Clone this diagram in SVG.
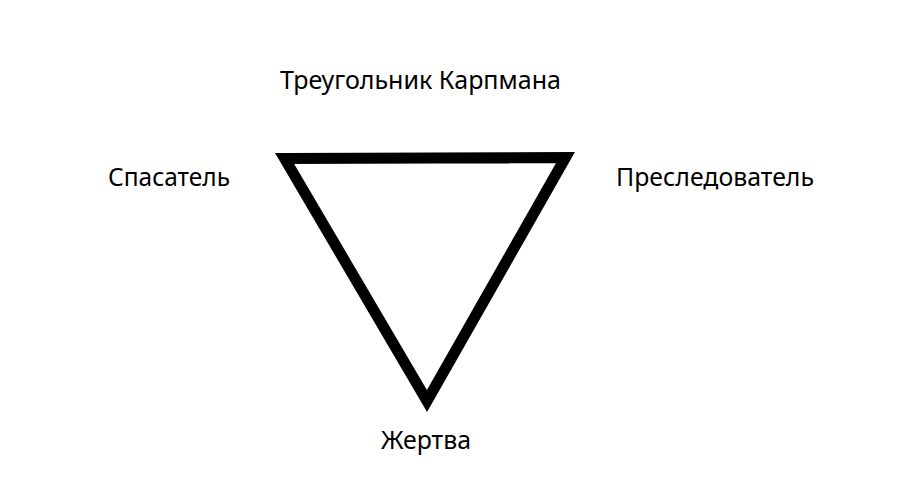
<svg xmlns="http://www.w3.org/2000/svg" width="900" height="490" viewBox="0 0 900 490">
<style>
.lbl{font-family:"Noto Sans","Open Sans","Liberation Sans",sans-serif;font-size:26px;fill:#000;text-anchor:middle}
.tri{fill:none;stroke:#000;stroke-width:11;stroke-linejoin:miter;stroke-miterlimit:10}
</style>
<rect width="900" height="490" fill="#fff"/>
<g id="title"><text class="lbl" x="420.5" y="89" textLength="281" lengthAdjust="spacingAndGlyphs">Треугольник Карпмана</text></g>
<g id="connectors"><polygon class="tri" points="284.6,158.5 565.5,157.5 427,401"/></g>
<g id="rescuer"><text class="lbl" x="169" y="186" textLength="122" lengthAdjust="spacingAndGlyphs">Спасатель</text></g>
<g id="persecutor"><text class="lbl" x="715" y="186" textLength="198" lengthAdjust="spacingAndGlyphs">Преследователь</text></g>
<g id="victim"><text class="lbl" x="426" y="449" textLength="90" lengthAdjust="spacingAndGlyphs">Жертва</text></g>
</svg>
